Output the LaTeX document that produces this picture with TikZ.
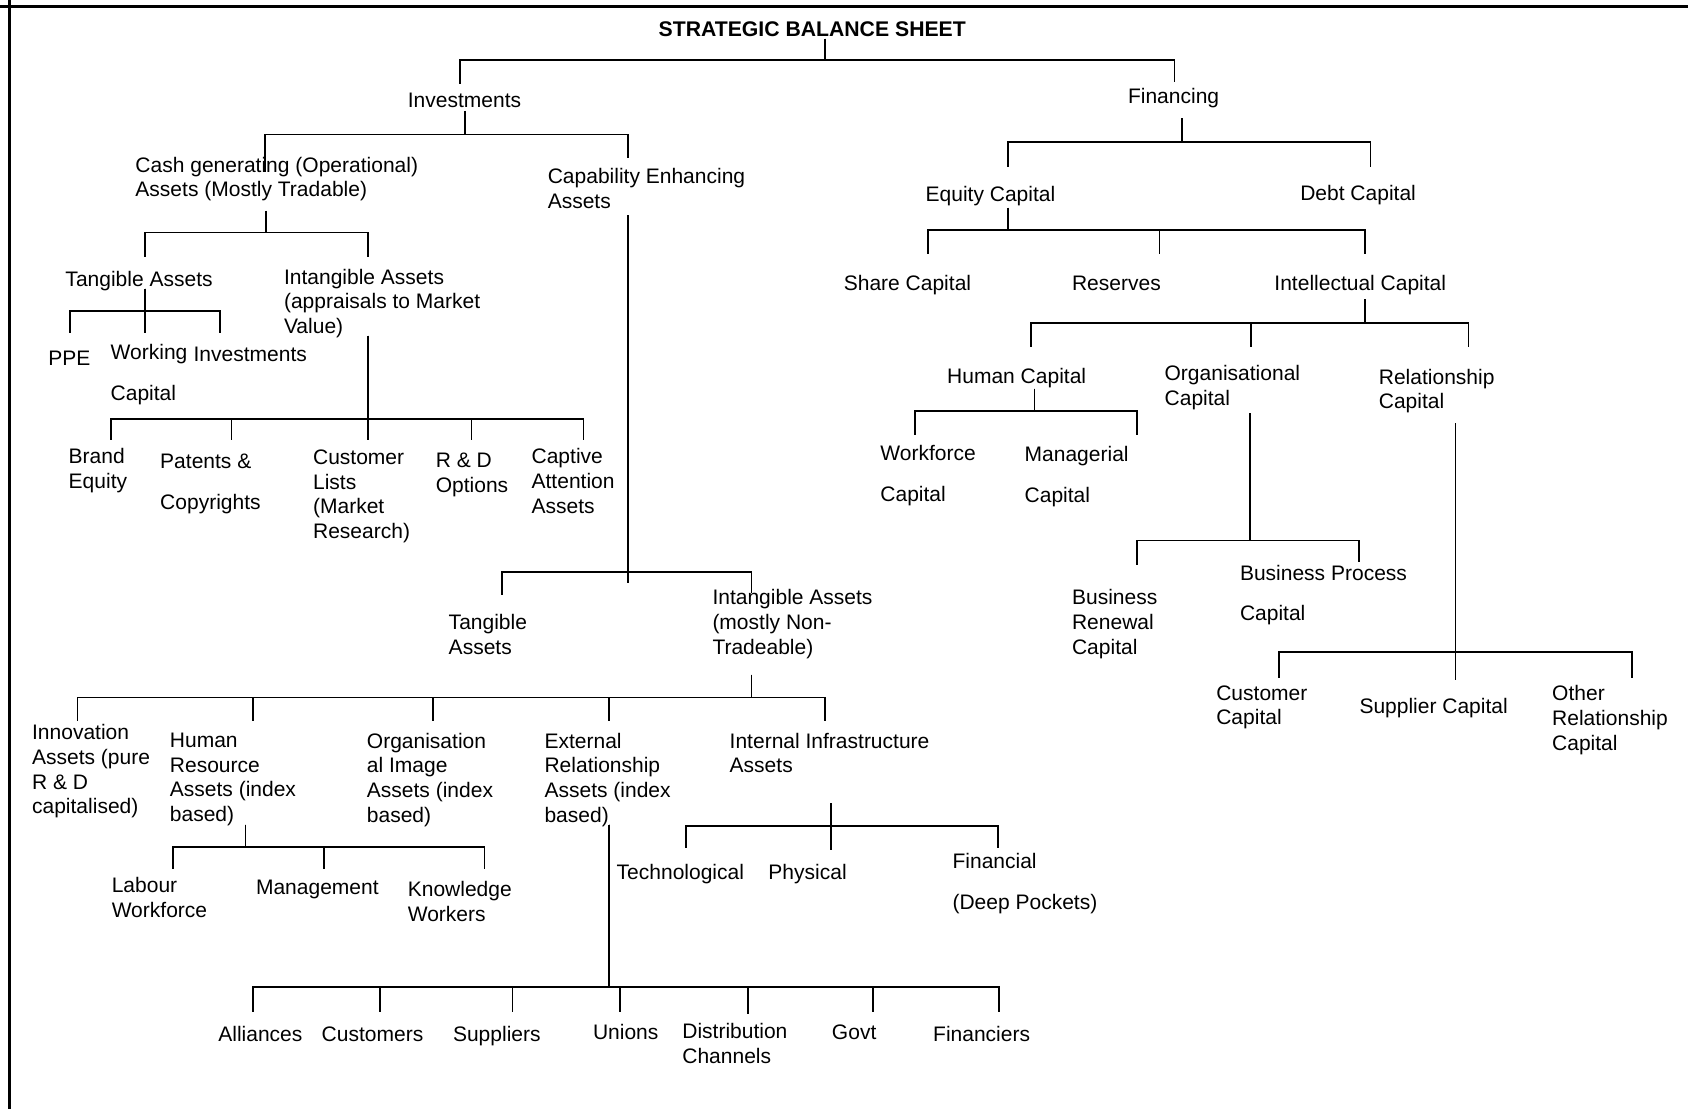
\documentclass[tikz,border=0pt]{standalone}
\usepackage{fontspec}
\setmainfont{Liberation Sans}

\begin{document}
\begin{tikzpicture}[x=0.538pt,y=-0.538pt,line width=0.9pt,
    lbl/.style={anchor=north west,inner sep=0pt,yshift=-1pt,align=left,font=\fontsize{10.5}{12.4}\selectfont,execute at begin node=\strut},
    head/.style={lbl,font=\fontsize{10.6}{12.4}\selectfont\bfseries},
    frame/.style={line width=1.3pt}]

    \useasboundingbox (0,0) rectangle (1568,1030);
    \draw[frame] (0,6) -- (1568,6);
    \draw[frame] (9,0) -- (9,1030);

    % investments side
    \node[head] (title) at (611,15) {STRATEGIC BALANCE SHEET};
    \node[lbl] (inv) at (378,81) {Investments};
    \node[lbl] (cash) at (125,143) {Cash generating (Operational)\\Assets (Mostly Tradable)};
    \node[lbl] (capab) at (508,154) {Capability Enhancing\\Assets};
    \node[lbl] (tang1) at (60,247) {Tangible Assets};
    \node[lbl] (intang1) at (263,247) {Intangible Assets\\(appraisals to Market\\Value)};
    \node[lbl] (ppe) at (44,321) {PPE};
    \node[lbl] (wcap) at (102,317) {Working\\[8pt]Capital};
    \node[lbl] (winv) at (179,317) {Investments};
    \node[lbl] (brand) at (63,414) {Brand\\Equity};
    \node[lbl] (pat) at (148,419) {Patents \&\\[8pt]Copyrights};
    \node[lbl] (cust) at (290,415) {Customer\\Lists\\(Market\\Research)};
    \node[lbl] (rnd) at (404,418) {R \& D\\Options};
    \node[lbl] (capt) at (493,414) {Captive\\Attention\\Assets};
    \node[lbl] (tang2) at (416,568) {Tangible\\Assets};
    \node[lbl] (intang2) at (661,545) {Intangible Assets\\(mostly Non-\\Tradeable)};
    \node[lbl] (innov) at (29,670) {Innovation\\Assets (pure\\R \& D\\capitalised)};
    \node[lbl] (hra) at (157,678) {Human\\Resource\\Assets (index\\based)};
    \node[lbl] (org) at (340,678) {Organisation\\al Image\\Assets (index\\based)};
    \node[lbl] (ext) at (505,678) {External\\Relationship\\Assets (index\\based)};
    \node[lbl] (infra) at (677,678) {Internal Infrastructure\\Assets};
    \node[lbl] (labour) at (103,812) {Labour\\Workforce};
    \node[lbl] (mgmt) at (237,812) {Management};
    \node[lbl] (know) at (378,816) {Knowledge\\Workers};
    \node[lbl] (tech) at (572,798) {Technological};
    \node[lbl] (phys) at (713,798) {Physical};
    \node[lbl] (finl) at (884,790) {Financial\\[8pt](Deep Pockets)};
    \node[lbl] (alli) at (202,949) {Alliances};
    \node[lbl] (custs) at (298,949) {Customers};
    \node[lbl] (supp) at (420,949) {Suppliers};
    \node[lbl] (unions) at (550,947) {Unions};
    \node[lbl] (distr) at (633,948) {Distribution\\Channels};
    \node[lbl] (govt) at (772,947) {Govt};
    \node[lbl] (fincs) at (866,949) {Financiers};

    % financing side
    \node[lbl] (fin) at (1047,77) {Financing};
    \node[lbl] (equity) at (859,168) {Equity Capital};
    \node[lbl] (debt) at (1207,167) {Debt Capital};
    \node[lbl] (share) at (783,251) {Share Capital};
    \node[lbl] (res) at (995,251) {Reserves};
    \node[lbl] (intel) at (1183,251) {Intellectual Capital};
    \node[lbl] (human) at (879,337) {Human Capital};
    \node[lbl] (orgc) at (1081,337) {Organisational\\Capital};
    \node[lbl] (relc) at (1280,340) {Relationship\\Capital};
    \node[lbl] (workf) at (817,411) {Workforce\\[8pt]Capital};
    \node[lbl] (manag) at (951,412) {Managerial\\[8pt]Capital};
    \node[lbl] (bren) at (995,545) {Business\\Renewal\\Capital};
    \node[lbl] (bproc) at (1151,522) {Business Process\\[8pt]Capital};
    \node[lbl] (custc) at (1129,634) {Customer\\Capital};
    \node[lbl] (suppc) at (1262,644) {Supplier Capital};
    \node[lbl] (othr) at (1441,634) {Other\\Relationship\\Capital};

    % where the stems leave a parent and reach a child
    \foreach \n/\x/\y in {title/766/36, inv/432/103, cash/247/196, tang1/135/268,
        intang1/342/312, capab/583/200, intang2/698/627, hra/228/766, ext/566/766,
        infra/772/746, fin/1098/110, equity/936/193, intel/1268/278, human/961/361,
        orgc/1161/384, relc/1352/393}
        \coordinate (\n-out) at (\x,\y);
    \foreach \n/\x/\y in {inv/427/78, fin/1091/76, cash/246/160, capab/583/147,
        tang1/135/239, intang1/342/239, ppe/65/309, wcap/135/309, winv/204/309,
        brand/103/409, pat/215/409, cust/342/409, rnd/438/409, capt/542/409,
        tang2/466/553, intang2/698/551, innov/72/670, hra/235/670, org/402/670,
        ext/566/670, infra/766/670, labour/161/807, mgmt/301/807, know/450/807,
        alli/235/940, custs/353/940, supp/476/940, unions/576/940, distr/695/942,
        govt/811/940, fincs/928/940, tech/637/788, phys/772/790, finl/927/788,
        equity/936/155, debt/1273/155, share/862/236, res/1077/236, intel/1268/236,
        human/958/322, orgc/1162/322, relc/1364/322, workf/850/404, manag/1056/404,
        bren/1056/525, bproc/1262/522, custc/1188/630, suppc/1352/632, othr/1516/630}
        \coordinate (\n-in) at (\x,\y);
    \coordinate (capab-end) at (583,542);

    \foreach \c in {inv,fin} \draw (title-out) -- ++(0,20) -| (\c-in);
    \foreach \c in {cash,capab} \draw (inv-out) -- ++(0,22) -| (\c-in);
    \foreach \c in {tang1,intang1} \draw (cash-out) -- ++(0,20) -| (\c-in);
    \foreach \c in {ppe,wcap,winv} \draw (tang1-out) -- ++(0,21) -| (\c-in);
    \foreach \c in {brand,pat,cust,rnd,capt} \draw (intang1-out) -- ++(0,77) -| (\c-in);
    \foreach \c in {tang2,intang2} \draw (capab-out) -- ++(0,331) -| (\c-in);
    \draw (capab-out) -- (capab-end);
    \foreach \c in {innov,hra,org,ext,infra} \draw (intang2-out) -- ++(0,21) -| (\c-in);
    \foreach \c in {labour,mgmt,know} \draw (hra-out) -- ++(0,21) -| (\c-in);
    \foreach \c in {alli,custs,supp,unions,distr,govt,fincs} \draw (ext-out) -- ++(0,151) -| (\c-in);
    \foreach \c in {tech,phys,finl} \draw (infra-out) -- ++(0,21) -| (\c-in);
    \foreach \c in {equity,debt} \draw (fin-out) -- ++(0,22) -| (\c-in);
    \foreach \c in {share,res,intel} \draw (equity-out) -- ++(0,21) -| (\c-in);
    \foreach \c in {human,orgc,relc} \draw (intel-out) -- ++(0,22) -| (\c-in);
    \foreach \c in {workf,manag} \draw (human-out) -- ++(0,21) -| (\c-in);
    \foreach \c in {bren,bproc} \draw (orgc-out) -- ++(0,118) -| (\c-in);
    \foreach \c in {custc,suppc,othr} \draw (relc-out) -- ++(0,213) -| (\c-in);
\end{tikzpicture}
\end{document}
